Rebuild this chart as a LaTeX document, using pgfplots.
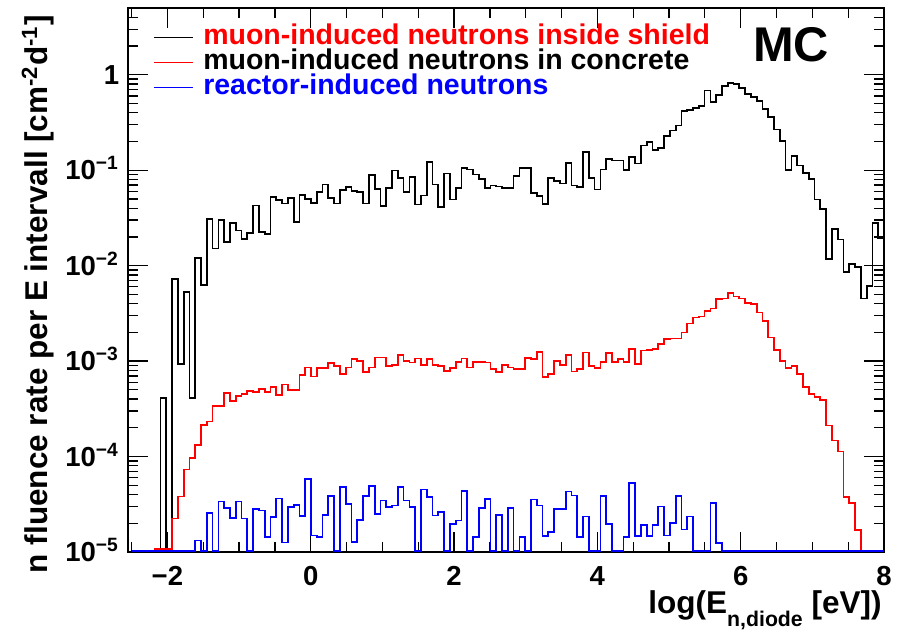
\documentclass[border=0pt]{standalone}
\usepackage{fontspec}
\setmainfont{Liberation Sans}
\usepackage{pgfplots}
\pgfplotsset{compat=1.18}
\usepackage{pgfplotstable}

% bin index k, bin left edge = -2.5 + k*10.5/130 ; zero bins drawn at the frame bottom (1.03e-5)
\pgfplotstableread{
k black red blue
0 1.03e-5 1.03e-5 1.03e-5
1 1.03e-5 1.03e-5 1.03e-5
2 1.03e-5 1.03e-5 1.03e-5
3 1.03e-5 1.03e-5 1.03e-5
4 1.03e-5 1.08e-5 1.03e-5
5 4.07e-4 1.08e-5 1.03e-5
6 1.03e-5 1.08e-5 1.03e-5
7 7.24e-3 2.24e-5 1.03e-5
8 9.33e-4 3.82e-5 1.03e-5
9 5.25e-3 7.31e-5 1.03e-5
10 4.07e-4 9.62e-5 1.03e-5
11 0.0120 1.324e-4 1.324e-5
12 6.31e-3 2.143e-4 1.03e-5
13 0.0309 2.323e-4 2.570e-5
14 0.0151 3.357e-4 1.03e-5
15 0.0302 3.357e-4 3.388e-5
16 0.0178 4.624e-4 2.884e-5
17 0.0282 3.846e-4 2.270e-5
18 0.0234 4.345e-4 3.388e-5
19 0.0191 4.519e-4 2.239e-5
20 0.0219 4.898e-4 1.03e-5
21 0.0427 4.786e-4 2.818e-5
22 0.0224 5.129e-4 2.723e-5
23 0.0214 4.786e-4 1.436e-5
24 0.0525 5.309e-4 2.344e-5
25 0.0490 4.416e-4 3.631e-5
26 0.0447 5.702e-4 1.259e-5
27 0.0513 5.012e-4 2.951e-5
28 0.0288 5.012e-4 3.090e-5
29 0.0550 7.145e-4 2.399e-5
30 0.0501 8.590e-4 5.848e-5
31 0.0457 6.918e-4 1.493e-5
32 0.0589 8.395e-4 1.436e-5
33 0.0708 8.511e-4 2.455e-5
34 0.0513 9.550e-4 3.846e-5
35 0.0447 8.933e-4 1.03e-5
36 0.0624 7.311e-4 4.786e-5
37 0.0668 8.590e-4 3.199e-5
38 0.0603 1.050e-3 1.274e-5
39 0.0589 1.009e-3 2.163e-5
40 0.0447 7.621e-4 3.890e-5
41 0.0891 8.590e-4 4.898e-5
42 0.0631 1.091e-3 2.512e-5
43 0.0421 1.091e-3 3.467e-5
44 0.0653 8.810e-4 2.951e-5
45 0.0993 9.120e-4 3.076e-5
46 0.0832 1.156e-3 4.786e-5
47 0.0589 1.007e-3 3.467e-5
48 0.0851 9.683e-4 2.951e-5
49 0.0437 1.067e-3 1.03e-5
50 0.0543 9.120e-4 4.519e-5
51 0.1213 1.047e-3 3.758e-5
52 0.0708 9.120e-4 2.415e-5
53 0.0410 8.810e-4 2.618e-5
54 0.0923 7.943e-4 1.03e-5
55 0.0493 8.395e-4 1.982e-5
56 0.0646 9.840e-4 2.143e-5
57 0.1057 1.067e-3 4.345e-5
58 0.1016 8.590e-4 1.03e-5
59 0.0902 9.840e-4 1.436e-5
60 0.0813 9.840e-4 2.884e-5
61 0.0653 9.683e-4 3.606e-5
62 0.0692 8.260e-4 1.03e-5
63 0.0676 7.621e-4 2.455e-5
64 0.0653 9.120e-4 1.03e-5
65 0.0653 8.590e-4 2.884e-5
66 0.0865 8.260e-4 1.03e-5
67 0.1057 8.260e-4 1.436e-5
68 0.1057 1.076e-3 1.03e-5
69 0.0579 1.047e-3 3.548e-5
70 0.0535 1.253e-3 3.076e-5
71 0.0445 6.761e-4 1.459e-5
72 0.0832 7.311e-4 1.622e-5
73 0.0767 1.007e-3 2.838e-5
74 0.0726 9.120e-4 2.838e-5
75 0.1194 1.156e-3 4.305e-5
76 0.0692 7.762e-4 3.908e-5
77 0.0670 8.260e-4 1.436e-5
78 0.1542 1.233e-3 2.360e-5
79 0.0832 8.954e-4 1.03e-5
80 0.0628 8.395e-4 1.03e-5
81 0.1016 9.840e-4 3.846e-5
82 0.1312 1.213e-3 1.982e-5
83 0.1262 9.840e-4 1.03e-5
84 0.1262 1.047e-3 1.03e-5
85 0.1000 9.840e-4 1.436e-5
86 0.1368 1.337e-3 5.309e-5
87 0.1175 9.333e-4 1.459e-5
88 0.1811 1.288e-3 1.905e-5
89 0.1963 1.318e-3 1.459e-5
90 0.1618 1.337e-3 1.932e-5
91 0.1710 1.514e-3 2.999e-5
92 0.2301 1.698e-3 1.493e-5
93 0.2600 1.726e-3 2.028e-5
94 0.2931 1.726e-3 3.846e-5
95 0.4140 1.995e-3 1.726e-5
96 0.4305 2.477e-3 2.360e-5
97 0.4487 2.864e-3 1.03e-5
98 0.4742 2.931e-3 1.03e-5
99 0.6855 3.357e-3 1.03e-5
100 0.5176 3.548e-3 3.273e-5
101 0.6180 4.457e-3 1.239e-5
102 0.7674 4.519e-3 1.03e-5
103 0.8185 5.140e-3 1.03e-5
104 0.8054 4.742e-3 1.03e-5
105 0.7261 4.519e-3 1.03e-5
106 0.6324 4.036e-3 1.03e-5
107 0.5848 3.945e-3 1.03e-5
108 0.5260 3.228e-3 1.03e-5
109 0.4350 2.642e-3 1.03e-5
110 0.3606 1.770e-3 1.03e-5
111 0.2661 1.318e-3 1.03e-5
112 0.2009 1.007e-3 1.03e-5
113 0.1000 8.395e-4 1.03e-5
114 0.1400 8.810e-4 1.03e-5
115 0.1119 7.311e-4 1.03e-5
116 0.0933 5.309e-4 1.03e-5
117 0.0813 4.519e-4 1.03e-5
118 0.0493 4.169e-4 1.03e-5
119 0.0394 3.945e-4 1.03e-5
120 0.01183 2.109e-4 1.03e-5
121 0.0240 1.469e-4 1.03e-5
122 0.01884 1.127e-4 1.03e-5
123 0.00859 3.758e-5 1.03e-5
124 0.01033 3.281e-5 1.03e-5
125 0.00968 1.687e-5 1.03e-5
126 0.00452 1.03e-5 1.03e-5
127 0.00612 1.03e-5 1.03e-5
128 0.0282 1.03e-5 1.03e-5
129 0.0196 1.03e-5 1.03e-5
130 0.0196 1.03e-5 1.03e-5
}\datatable

\begin{document}
\begin{tikzpicture}
\useasboundingbox (-51.2pt,-30.8pt) rectangle (309.2pt,220.8pt);
\begin{axis}[
  name=ax, at={(0pt,0pt)}, anchor=south west,
  scale only axis, width=302.4pt, height=217.6pt,
  xmin=-2.55, xmax=8, ymode=log, ymin=1e-5, ymax=5,
  xtick={-2,0,2,4,6,8}, xticklabels={−2,0,2,4,6,8},
  minor xtick={-2.5,-1.5,-1,-0.5,0.5,1,1.5,2.5,3,3.5,4.5,5,5.5,6.5,7,7.5},
  ytick={1e-5,1e-4,1e-3,1e-2,1e-1,1},
  yticklabels={10\textsuperscript{−5},10\textsuperscript{−4},10\textsuperscript{−3},10\textsuperscript{−2},10\textsuperscript{−1},1},
  minor ytick={2e-5,3e-5,4e-5,5e-5,6e-5,7e-5,8e-5,9e-5,
    2e-4,3e-4,4e-4,5e-4,6e-4,7e-4,8e-4,9e-4,
    2e-3,3e-3,4e-3,5e-3,6e-3,7e-3,8e-3,9e-3,
    2e-2,3e-2,4e-2,5e-2,6e-2,7e-2,8e-2,9e-2,
    0.2,0.3,0.4,0.5,0.6,0.7,0.8,0.9,2,3,4},
  tick pos=both, xticklabel pos=lower, yticklabel pos=left,
  tick align=inside,
  major tick length=8pt, minor tick length=4pt,
  every tick/.style={black, line width=0.5pt},
  axis line style={line width=0.8pt},
  ticklabel style={font=\fontsize{11}{13}\selectfont\bfseries},
  yticklabel style={anchor=base east, yshift=-3.9pt},
  xticklabel style={yshift=-2.2pt},
  legend cell align=left,
  legend image code/.code={\draw[#1, line width=0.7pt] (0pt,0pt) -- (15.6pt,0pt);},
  legend style={draw=none, fill=none, at={(0.0331,0.9697)}, anchor=north west,
    font=\fontsize{11.4}{13}\selectfont\bfseries, row sep=0pt, column sep=3.6pt, inner sep=0pt,
    nodes={inner sep=0pt, text height=8pt, text depth=2pt}},
]
\addplot[black, line width=0.7pt, const plot] table[x expr={-2.5+\thisrow{k}*0.0807692}, y=black] {\datatable};
\addlegendentry{\textcolor{red}{muon-induced neutrons inside shield}}
\addplot[red, line width=0.7pt, const plot] table[x expr={-2.5+\thisrow{k}*0.0807692}, y=red] {\datatable};
\addlegendentry{\textcolor{black}{muon-induced neutrons in concrete}}
\addplot[blue, line width=0.7pt, const plot] table[x expr={-2.5+\thisrow{k}*0.0807692}, y=blue] {\datatable};
\addlegendentry{\textcolor{blue}{reactor-induced neutrons}}
\end{axis}
\node[anchor=base east, inner sep=0pt, font=\fontsize{12.6}{14}\selectfont\bfseries]
  at ([xshift=-0.8pt,yshift=-24.4pt]ax.south east) {log(E\raisebox{-5.2pt}{\fontsize{8.5}{9}\selectfont n,diode} [eV])};
\node[rotate=90, anchor=south east, inner sep=0pt, font=\fontsize{12.6}{14}\selectfont\bfseries]
  at ([xshift=-29.2pt,yshift=-2.6pt]ax.north west) {n fluence rate per E intervall [cm\textsuperscript{-2}d\textsuperscript{-1}]};
\node[inner sep=0pt, font=\fontsize{19.5}{20}\selectfont\bfseries]
  at ([xshift=265.2pt,yshift=-14.8pt]ax.north west) {MC};
\end{tikzpicture}
\end{document}
